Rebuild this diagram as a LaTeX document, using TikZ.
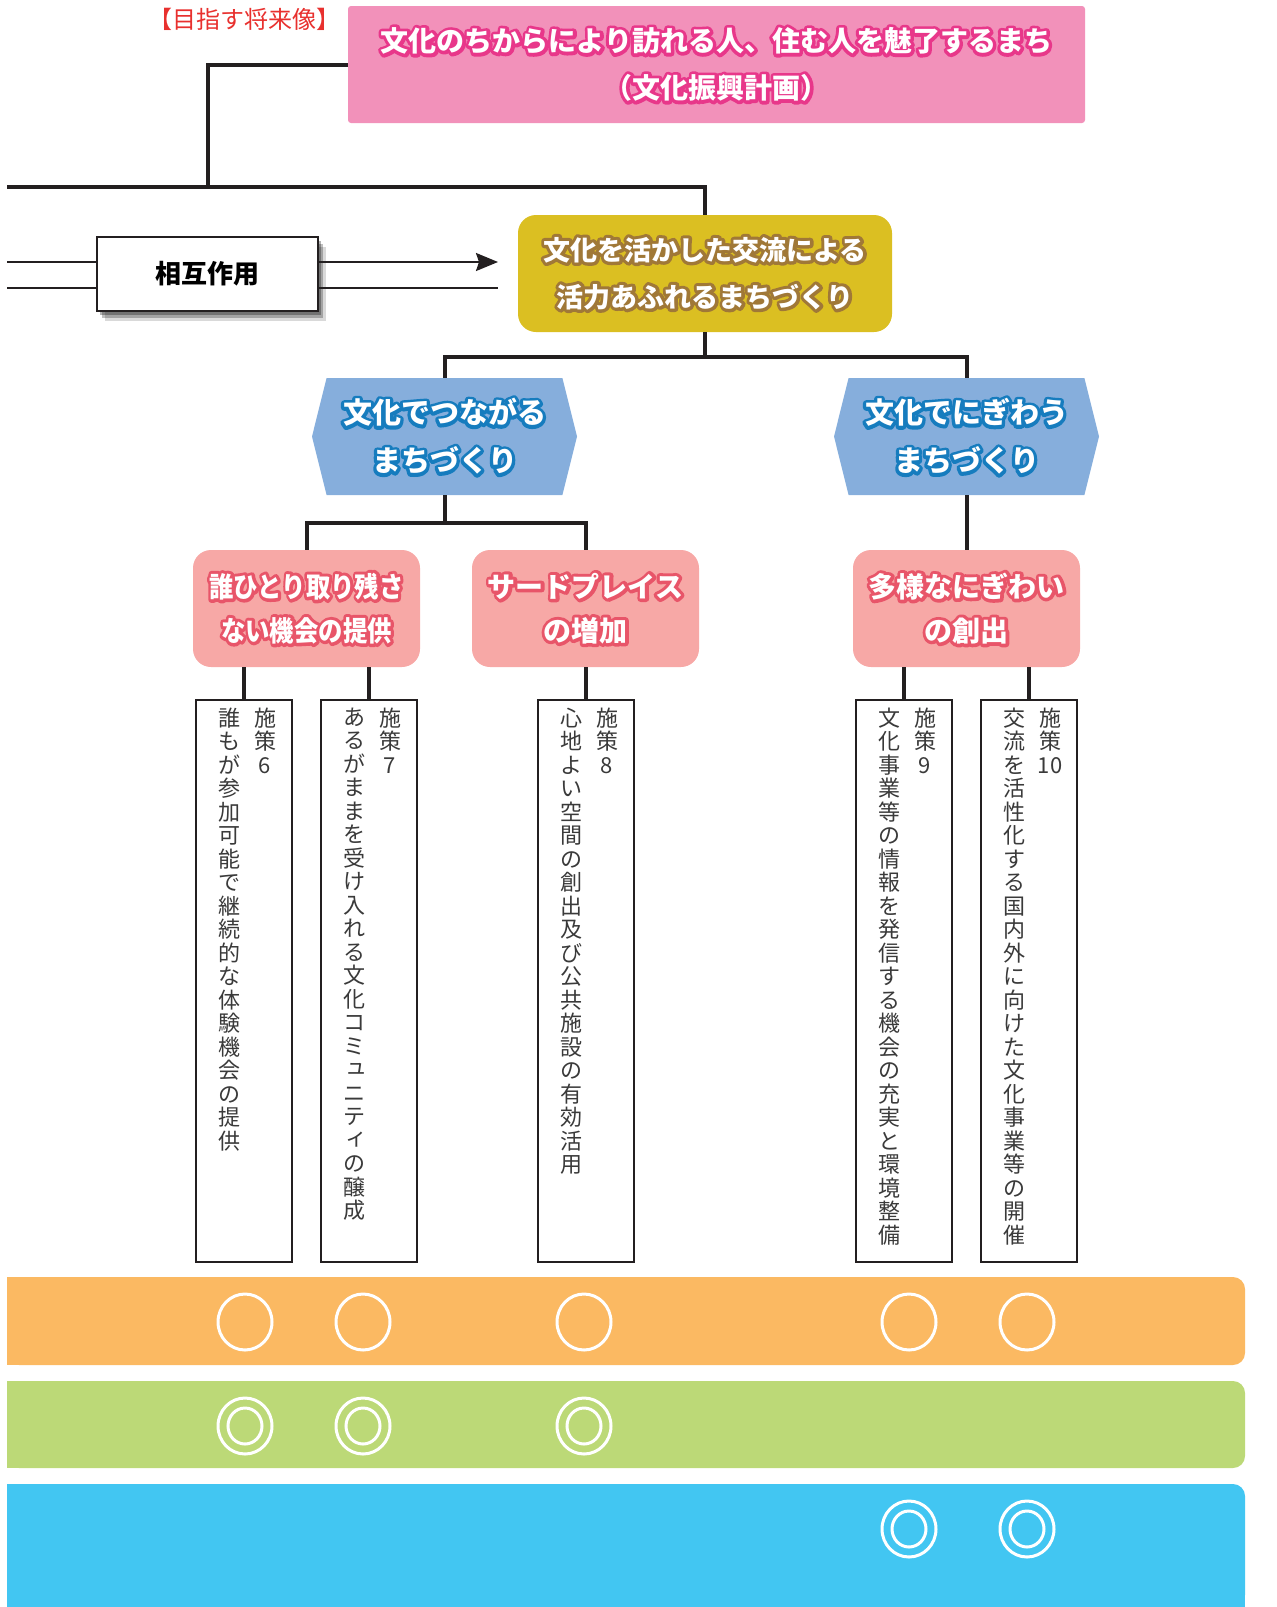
\documentclass[tikz,border=0pt]{standalone}
\usepackage{fontspec}
\newfontfamily\jp{Noto Sans CJK JP}
\usetikzlibrary{shadows,arrows.meta,shapes.symbols}
\definecolor{lk}{HTML}{231F20}
\definecolor{pinkbg}{HTML}{F291BA}
\definecolor{pinkol}{HTML}{E8378A}
\definecolor{goldbg}{HTML}{DBBF22}
\definecolor{goldol}{HTML}{A07837}
\definecolor{hexbg}{HTML}{86AEDC}
\definecolor{hexol}{HTML}{167CBE}
\definecolor{salbg}{HTML}{F7A8A6}
\definecolor{salol}{HTML}{E85569}
\definecolor{bandor}{HTML}{FBB962}
\definecolor{bandgr}{HTML}{BCD977}
\definecolor{bandbl}{HTML}{42C6F2}
\definecolor{titlered}{HTML}{E8302E}
\definecolor{vtxt}{HTML}{3A3A3A}
\newcommand\ol[2]{\leavevmode\rlap{\textcolor{#1}{\special{pdf:literal direct 1 Tr 6.5 w 1 j 1 J}#2\special{pdf:literal direct 0 Tr}}}\textcolor{white}{#2}}
\def\vtend{\vtend}
\def\vtloop#1{\ifx\vtend#1\else\hbox to 1em{\hss#1\hss}\expandafter\vtloop\fi}
\newcommand\vt[1]{\vbox{\baselineskip=23.5pt\lineskiplimit=-50pt\lineskip=0pt\vtloop#1\vtend}}
\newcommand\sk[1]{\hbox to 1em{\kern0.12em\raisebox{0.14em}{#1}\hss}}
\begin{document}
\begin{tikzpicture}[x=1pt,y=1pt,
  conn/.style={line width=4pt,draw=lk},
  thinln/.style={line width=2pt,draw=lk},
  headtxt/.style={font=\jp\bfseries\fontsize{28}{47}\selectfont,align=center},
  pbox/.style={draw=lk,line width=2.6pt,fill=white,minimum width=96pt,minimum height=562pt,inner sep=0pt},
  vcol/.style={anchor=north,inner sep=0pt,text=vtxt,font=\jp\fontsize{22}{23.5}\selectfont},
  salbox/.style={fill=salbg,rounded corners=18pt,minimum width=227pt,minimum height=117pt,inner sep=0pt,font=\jp\bfseries\fontsize{28}{44}\selectfont,align=center},
  hexbox/.style={signal,signal to=west and east,signal pointer angle=152,fill=hexbg,minimum width=265pt,minimum height=117pt,inner sep=0pt,font=\jp\bfseries\fontsize{29}{48}\selectfont,align=center},
  ring/.style={draw=white,line width=3pt}]
\useasboundingbox (0,0) rectangle (1277,-1607);

% title
\node[text=titlered,font=\jp\fontsize{24}{28}\selectfont,inner sep=0pt] (tt) at (244,-19) {【目指す将来像】};
\node[fill=pinkbg,rounded corners=3pt,minimum width=737pt,minimum height=117pt,inner sep=0pt,headtxt] (pink) at (716.5,-64.5)
  {\ol{pinkol}{文化のちからにより訪れる人、住む人を魅了するまち}\\\ol{pinkol}{（文化振興計画）}};

% gold box
\node[fill=goldbg,rounded corners=18pt,minimum width=374pt,minimum height=117pt,inner sep=0pt,font=\jp\bfseries\fontsize{27}{47}\selectfont,align=center] (gold) at (705,-273.5)
  {\ol{goldol}{文化を活かした交流による}\\\ol{goldol}{活力あふれるまちづくり}};

% top connectors
\coordinate (t1) at (208,-64.5);
\coordinate (t2) at (208,-187);
\coordinate (lft) at (7,-187);
\draw[conn] (pink.west) -- (t1) -- (t2);
\draw[conn] (lft) -| (gold.north);

% interaction
\coordinate (i1) at (7,-262);
\coordinate (i2) at (7,-288);
\coordinate (a1) at (498,-262);
\coordinate (a2) at (498,-288);
\node[draw=lk,line width=2.6pt,fill=white,minimum width=221pt,minimum height=74pt,inner sep=0pt,
  font=\jp\bfseries\fontsize{26}{30}\selectfont,
  drop shadow={shadow xshift=8pt,shadow yshift=-10pt,opacity=0.15,fill=black},
  drop shadow={shadow xshift=5pt,shadow yshift=-7pt,opacity=0.25,fill=black},
  drop shadow={shadow xshift=3pt,shadow yshift=-4pt,opacity=0.3,fill=black}] (ia) at (207.5,-274) {相互作用};
\draw[thinln] (i1) -- (i1-|ia.west);
\draw[thinln] (i2) -- (i2-|ia.west);
\draw[thinln,-{Stealth[length=22pt,width=18pt,inset=3pt]}] (ia.east|-i1) -- (a1);
\draw[thinln] (ia.east|-i2) -- (a2);

% hexagons
\node[hexbox] (hexL) at (444.5,-436.5) {\ol{hexol}{文化でつながる}\\\ol{hexol}{まちづくり}};
\node[hexbox] (hexR) at (966.5,-436.5) {\ol{hexol}{文化でにぎわう}\\\ol{hexol}{まちづくり}};
\draw[conn] (gold.south) -- ++(0,-25) coordinate (g1);
\draw[conn] (hexL.north) |- (g1) -| (hexR.north);

% salmon boxes
\node[salbox] (sa) at (306.5,-608.5) {\scalebox{0.87}[1]{\ol{salol}{誰ひとり取り残さ}}\\\scalebox{0.87}[1]{\ol{salol}{ない機会の提供}}};
\node[salbox] (sb) at (585.5,-608.5) {\ol{salol}{サードプレイス}\\\ol{salol}{の増加}};
\node[salbox] (sc) at (966.5,-608.5) {\ol{salol}{多様なにぎわい}\\\ol{salol}{の創出}};
\draw[conn] (hexL.south) -- ++(0,-28) coordinate (h1);
\draw[conn] (sa.north) |- (h1) -| (sb.north);
\draw[conn] (hexR.south) -- (sc.north);

% policy boxes
\node[pbox] (b6) at (244,-981) {};
\node[pbox] (b7) at (369,-981) {};
\node[pbox] (b8) at (586,-981) {};
\node[pbox] (b9) at (904,-981) {};
\node[pbox] (b10) at (1029,-981) {};
\draw[conn] (b6.north) -- (b6.north|-sa.south);
\draw[conn] (b7.north) -- (b7.north|-sa.south);
\draw[conn] (b8.north) -- (b8.north|-sb.south);
\draw[conn] (b9.north) -- (b9.north|-sc.south);
\draw[conn] (b10.north) -- (b10.north|-sc.south);

\node[vcol] (b6a) at ([xshift=21pt,yshift=-9pt]b6.north) {\vt{施策6}};
\node[vcol] (b6b) at ([xshift=-15pt,yshift=-9pt]b6.north) {\vt{誰もが参加可能で継続的な体験機会の提供}};
\node[vcol] (b7a) at ([xshift=21pt,yshift=-9pt]b7.north) {\vt{施策7}};
\node[vcol] (b7b) at ([xshift=-15pt,yshift=-9pt]b7.north) {\vt{あるがままを受け入れる文化コミ{\sk ュ}ニテ{\sk ィ}の醸成}};
\node[vcol] (b8a) at ([xshift=21pt,yshift=-9pt]b8.north) {\vt{施策8}};
\node[vcol] (b8b) at ([xshift=-15pt,yshift=-9pt]b8.north) {\vt{心地よい空間の創出及び公共施設の有効活用}};
\node[vcol] (b9a) at ([xshift=21pt,yshift=-9pt]b9.north) {\vt{施策9}};
\node[vcol] (b9b) at ([xshift=-15pt,yshift=-9pt]b9.north) {\vt{文化事業等の情報を発信する機会の充実と環境整備}};
\node[vcol] (b10a) at ([xshift=21pt,yshift=-9pt]b10.north) {\vt{施策{10}}};
\node[vcol] (b10b) at ([xshift=-15pt,yshift=-9pt]b10.north) {\vt{交流を活性化する国内外に向けた文化事業等の開催}};

% bands
\fill[bandor,rounded corners=12pt] (7,-1277) rectangle (1245,-1365);
\fill[bandor] (7,-1277) rectangle (40,-1365);
\fill[bandgr,rounded corners=12pt] (7,-1381) rectangle (1245,-1468);
\fill[bandgr] (7,-1381) rectangle (40,-1468);
\fill[bandbl,rounded corners=12pt] (7,-1484) rectangle (1245,-1607);
\fill[bandbl] (7,-1484) rectangle (40,-1607);
\fill[bandbl] (1200,-1560) rectangle (1245,-1607);

\foreach \x in {245,363,584,909,1027}
  \draw[ring] (\x,-1322) ellipse [x radius=27pt,y radius=28pt];
\foreach \x in {245,363,584}{
  \draw[ring] (\x,-1426) ellipse [x radius=27pt,y radius=28pt];
  \draw[ring] (\x,-1426) ellipse [x radius=17pt,y radius=18pt];}
\foreach \x in {909,1027}{
  \draw[ring] (\x,-1529) ellipse [x radius=27pt,y radius=28pt];
  \draw[ring] (\x,-1529) ellipse [x radius=17pt,y radius=18pt];}
\end{tikzpicture}
\end{document}
